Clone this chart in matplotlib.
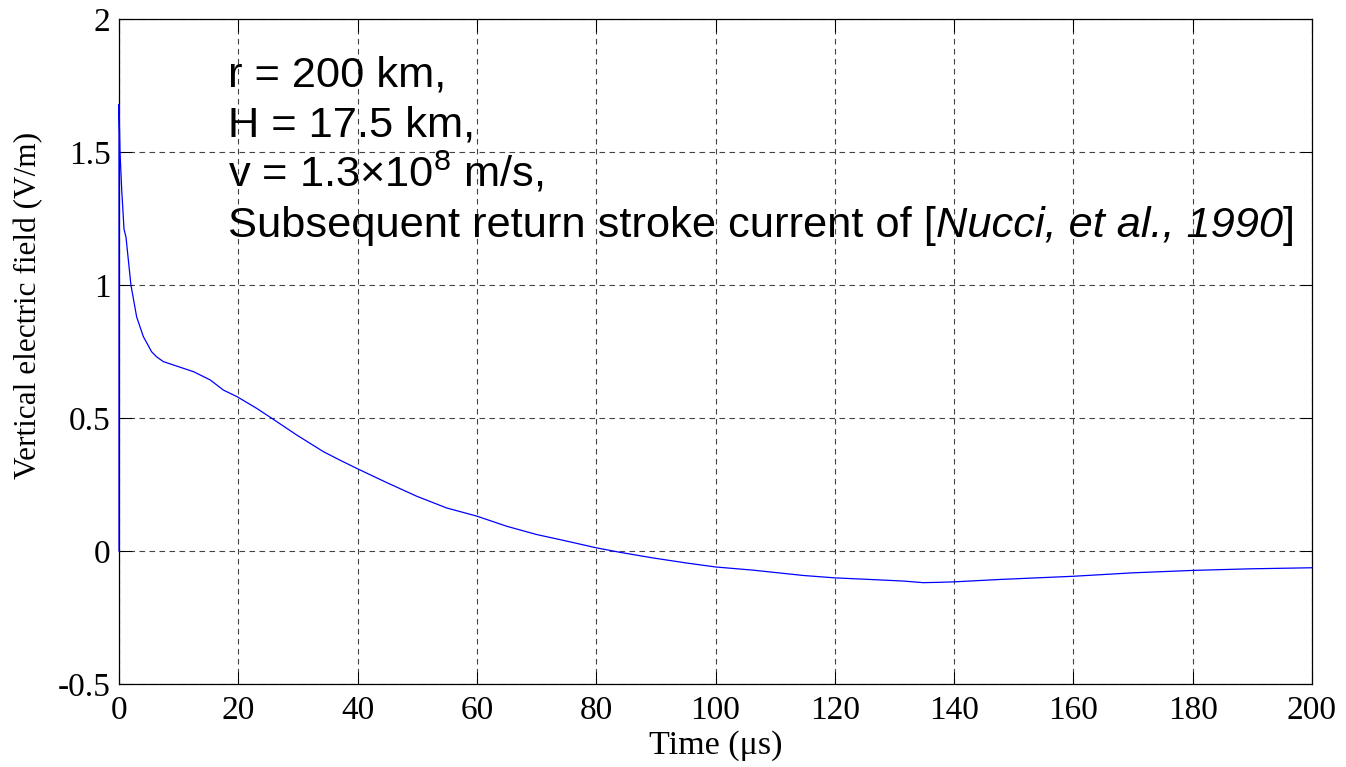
import matplotlib
matplotlib.use("Agg")
import matplotlib.pyplot as plt

# Vertical electric field waveform at 200 km (time in microseconds, field in V/m)
time_us = [0, 0, 0.17, 0.45, 0.84, 1.17, 2.0, 2.96, 4.08, 5.47, 6.3, 7.43,
           9.7, 12.5, 15.3, 17.5, 19.8, 23.1, 25.6, 29.8, 34.3, 37.0, 40.0,
           44.9, 49.9, 54.9, 60.0, 65.0, 70.0, 75.1, 80.0, 84.0, 89.5, 95.1,
           100.0, 106.3, 114.7, 120.0, 125.9, 131.5, 134.8, 137.1, 140.0,
           147.7, 160.0, 170.0, 180.0, 189.6, 200.0]
field_vm = [0, 1.679, 1.50, 1.36, 1.21, 1.18, 1.00, 0.88, 0.806, 0.749, 0.73,
            0.712, 0.695, 0.674, 0.643, 0.605, 0.58, 0.536, 0.499, 0.436,
            0.373, 0.342, 0.309, 0.257, 0.206, 0.162, 0.131, 0.093, 0.062,
            0.037, 0.012, -0.005, -0.026, -0.045, -0.060, -0.072, -0.092,
            -0.101, -0.107, -0.113, -0.119, -0.118, -0.116, -0.107, -0.095,
            -0.082, -0.073, -0.067, -0.063]

x_ticks = [0, 20, 40, 60, 80, 100, 120, 140, 160, 180, 200]
y_ticks = [-0.5, 0, 0.5, 1, 1.5, 2]
y_tick_labels = ["-0.5", "0", "0.5", "1", "1.5", "2"]

plt.rcParams["mathtext.fontset"] = "custom"
plt.rcParams["mathtext.rm"] = "Liberation Sans"
plt.rcParams["mathtext.it"] = "Liberation Sans:italic"

W, H = 1346, 767
fig = plt.figure(figsize=(W / 100, H / 100), dpi=100)
ax = fig.add_axes([119 / W, 1 - 684 / H, (1312 - 119) / W, (684 - 19) / H])

ax.plot(time_us, field_vm, color="#0000ff", lw=0.9, zorder=4, clip_on=False)

ax.set_xlim(0, 200)
ax.set_ylim(-0.5, 2)
ax.set_xticks(x_ticks)
ax.set_xticklabels([str(v) for v in x_ticks])
ax.set_yticks(y_ticks)
ax.set_yticklabels(y_tick_labels)

serif = "Liberation Serif"
for lab in ax.get_xticklabels() + ax.get_yticklabels():
    lab.set_fontfamily(serif)
    lab.set_fontsize(24)

ax.tick_params(direction="in", length=9, width=0.75, top=True, right=True,
               colors="black")
ax.tick_params(axis="x", pad=8)
ax.tick_params(axis="y", pad=6)

ax.grid(True, color="#444444", lw=0.8, linestyle=(0, (5, 4)))
for s in ax.spines.values():
    s.set_linewidth(0.9)
    s.set_color("black")
    s.set_zorder(3)

ax.set_xlabel("Time (\u03bcs)", fontfamily=serif, fontsize=24.5, labelpad=3)
ax.set_ylabel("Vertical electric field (V/m)", fontfamily=serif,
              fontsize=22.5, labelpad=10)
ax.yaxis.set_label_coords(-0.0637, 0.57)

# Parameter block
sans = "Liberation Sans"
fs = 31.2
x0 = 228 / W
lines = ["r = 200 km,", "H = 17.5 km,", "v = 1.3\u00d710$^{8}$ m/s,"]
baselines = [86, 137, 187]
for s, b in zip(lines, baselines):
    fig.text(x0, 1 - b / H, s, fontfamily=sans, fontsize=fs, va="baseline",
             ha="left")

t_a = fig.text(x0, 1 - 237 / H, "Subsequent return stroke current of [",
               fontfamily=sans, fontsize=fs, va="baseline", ha="left")
t_b = ax.annotate("Nucci, et al., 1990", xy=(1, 0), xycoords=t_a,
                  fontfamily=sans, fontsize=fs, fontstyle="italic",
                  va="bottom", ha="left")
t_c = ax.annotate("]", xy=(1, 0), xycoords=t_b, fontfamily=sans,
                  fontsize=fs, va="bottom", ha="left")

fig.savefig("out.png", dpi=100)
